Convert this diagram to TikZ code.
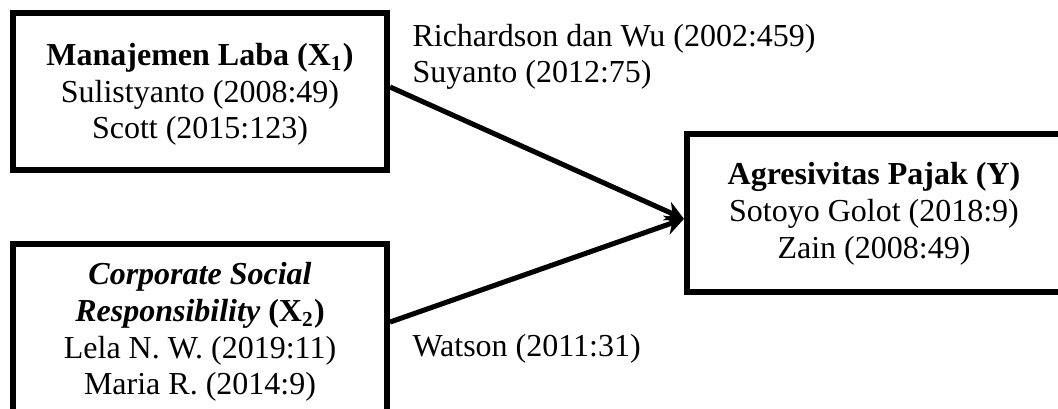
\documentclass[tikz,border=0pt]{standalone}
\usepackage{fontspec}
\setmainfont{Liberation Serif}
\usetikzlibrary{arrows.meta}
\tikzset{
  varbox/.style={draw, line width=2.25pt, minimum width=140.25pt, align=center,
    inner sep=0pt, text depth=0pt, font=\fontsize{12}{13.8}\selectfont},
  ref/.style={anchor=base west, align=left, inner sep=0pt,
    font=\fontsize{12}{13.6}\selectfont},
  link/.style={line width=1.9pt, -{Stealth[length=7pt,width=7.5pt]}}
}

\begin{document}
\begin{tikzpicture}[x=0.375pt, y=-0.375pt]
\path[use as bounding box] (0,0) rectangle (1058,409);
\clip (0,0) rectangle (1058,409);
\node[varbox, minimum height=58.9pt, text height=35.5pt] (X1) at (200,91.5)
  {\textbf{Manajemen Laba (X\textsubscript{1})}\\ Sulistyanto (2008:49)\\ Scott (2015:123)};
\node[varbox, minimum height=63.75pt, text height=49.5pt] (X2) at (200,329)
  {\textbf{\textit{Corporate Social}}\\ \textbf{\textit{Responsibility} (X\textsubscript{2})}\\
   Lela N. W. (2019:11)\\ Maria R. (2014:9)};
\node[varbox, minimum height=59.2pt, text height=34pt] (Y) at (874,213)
  {\textbf{Agresivitas Pajak (Y)}\\ Sotoyo Golot (2018:9)\\ Zain (2008:49)};
\node[ref] (r1) at (412,83) {Richardson dan Wu (2002:459)\\ Suyanto (2012:75)};
\node[ref] (r2) at (412,357) {Watson (2011:31)};
\coordinate (tip) at ([yshift=-2.2pt]Y.west);
\draw[link] ([yshift=1.7pt]X1.east) -- (tip);
\draw[link] ([yshift=2.6pt]X2.east) -- (tip);
\end{tikzpicture}
\end{document}
